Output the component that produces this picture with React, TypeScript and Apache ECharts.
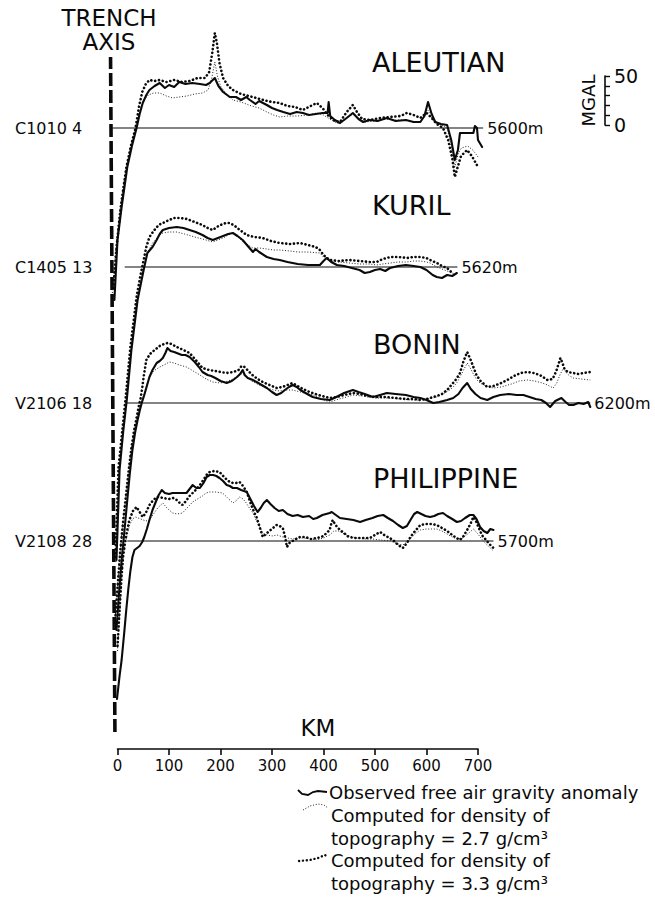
import React, { useEffect, useRef } from 'react';
import * as echarts from 'echarts';

// ---------------- DATA (km from trench axis, mGal relative to profile baseline) ----------------
const regionNames = ['ALEUTIAN', 'KURIL', 'BONIN', 'PHILIPPINE'];
const cruiseLabels = ['C1010 4', 'C1405 13', 'V2106 18', 'V2108 28'];
const depthLabels = ['5600m', '5620m', '6200m', '5700m'];
const baselineExtentsKm = [[-10, 710], [14, 660], [15, 918], [19, 730]];
const xTicksKm = { min: 0, max: 700, step: 100 };
const scaleBarMgal = { min: 0, max: 50, step: 10 };
const trenchAxisKm = [[-5, 0], [-13.5, 1]];
const legendLabels = [
  'Observed free air gravity anomaly',
  'Computed for density of',
  'topography = 2.7 g/cm³',
  'Computed for density of',
  'topography = 3.3 g/cm³',
];

const aleutianObserved = [[-6,-172],[0,-112],[8,-79],[19,-39],[28,-18],[37,0],[43,14],[49,25],[56,33],[62,38],[72,42],[82,45],[92,40],[100,43],[110,41],[120,46],[132,44],[145,45],[160,44],[172,43],[179,45],[189,50],[196,42],[205,36],[218,31],[230,31],[240,28],[250,31],[257,28],[268,24],[275,27],[290,23],[300,20],[310,18],[322,16],[335,14],[348,16],[360,15],[372,13],[385,14],[398,15],[408,15],[410,26],[413,12],[422,8],[432,5],[445,10],[457,15],[468,9],[477,6],[490,8],[505,7],[523,10],[540,7],[560,8],[575,6],[588,6],[596,12],[603,26],[610,14],[617,6],[628,4],[640,3],[648,-12],[655,-32],[661,-22],[665,-5],[678,-5],[691,-5],[694,2],[698,0],[700,-12],[708,-19]];
const aleutianDense = [[-8,-160],[-2,-120],[6,-80],[17,-40],[26,-18],[35,0],[42,22],[48,36],[55,44],[62,48],[72,47],[82,48],[95,46],[110,48],[125,46],[140,47],[155,50],[170,50],[178,56],[184,75],[189,95],[193,85],[198,65],[205,50],[215,42],[224,38],[240,34],[255,32],[270,30],[283,28],[300,26],[315,25],[330,22],[345,21],[360,18],[375,22],[387,25],[398,20],[410,12],[422,7],[432,6],[445,16],[457,23],[465,16],[475,9],[490,8],[510,10],[530,11],[550,12],[562,15],[575,13],[588,10],[600,15],[610,10],[620,4],[632,0],[642,-12],[650,-30],[655,-49],[660,-40],[667,-28],[679,-22],[688,-28],[700,-39]];
const aleutianLight = [[-10,-165],[-4,-125],[4,-85],[15,-45],[25,-20],[36,0],[44,18],[50,27],[60,33],[70,35],[82,35],[95,32],[107,30],[120,31],[135,32],[150,34],[165,35],[176,38],[183,50],[189,66],[194,52],[200,42],[210,35],[224,28],[240,26],[260,22],[275,20],[290,16],[303,13],[315,11],[330,12],[350,12],[370,13],[387,15],[400,13],[412,9],[422,6],[432,4],[445,10],[457,14],[468,9],[480,6],[500,7],[520,9],[540,8],[560,8],[575,6],[588,6],[597,12],[603,18],[610,10],[617,5],[630,3],[640,0],[648,-18],[655,-39],[662,-25],[668,-20],[680,-18],[690,-22],[700,-29]];

const kurilObserved = [[-2,-293],[4,-203],[11,-165],[18,-133],[27,-83],[33,-58],[39,-33],[46,-15],[52,0],[58,14],[63,17],[68,20],[76,27],[82,33],[88,37],[100,39],[115,40],[128,39],[140,37],[152,35],[165,32],[175,29],[185,27],[195,29],[205,31],[215,33],[224,34],[233,31],[243,27],[253,21],[263,15],[268,18],[275,15],[290,10],[303,8],[315,7],[330,5],[350,3],[370,2],[393,2],[400,6],[406,9],[415,5],[426,2],[440,1],[455,-1],[470,-3],[480,-6],[490,-5],[500,-3],[510,-2],[520,-4],[529,-1],[545,1],[560,2],[575,1],[588,0],[600,-3],[612,-8],[620,-10],[630,-11],[640,-8],[650,-9],[659,-6]];
const kurilDense = [[-4,-290],[2,-200],[9,-165],[16,-130],[25,-80],[31,-55],[37,-30],[44,-10],[50,5],[56,20],[62,30],[70,36],[80,42],[88,44],[100,47],[110,49],[121,49],[135,48],[150,45],[165,42],[175,39],[185,37],[193,40],[200,42],[210,44],[218,44],[228,41],[235,38],[243,35],[251,32],[265,30],[282,29],[298,26],[315,24],[335,23],[354,24],[370,22],[385,20],[393,17],[400,12],[412,7],[430,6],[450,7],[470,6],[490,5],[503,5],[515,8],[530,10],[545,10],[562,9],[575,10],[588,10],[600,9],[607,7],[620,4],[630,1],[640,-1],[650,-6]];
const kurilLight = [[-3,-295],[3,-205],[10,-167],[17,-135],[26,-85],[32,-60],[38,-35],[45,-15],[51,0],[57,12],[62,18],[68,24],[75,28],[82,32],[88,34],[100,35],[115,35],[130,33],[150,30],[165,28],[185,25],[195,27],[205,29],[215,32],[224,34],[232,31],[240,27],[250,23],[263,19],[275,19],[290,18],[303,17],[315,17],[335,16],[350,15],[370,15],[393,14],[400,10],[412,6],[430,5],[450,4],[470,3],[490,3],[503,2],[515,3],[530,4],[545,5],[562,5],[575,6],[588,6],[600,5],[607,4],[620,0],[630,-2],[640,-4],[650,-6],[655,-7]];

const boninObserved = [[-2,-227],[3,-190],[8,-157],[14,-125],[19,-97],[24,-70],[29,-47],[34,-30],[39,-17],[43,-8],[47,0],[52,8],[57,17],[62,26],[68,33],[76,40],[82,42],[88,45],[93,50],[97,55],[103,52],[110,51],[115,50],[125,48],[132,48],[140,46],[150,41],[158,36],[165,31],[175,28],[182,27],[190,25],[200,22],[212,20],[222,22],[232,26],[238,29],[243,33],[247,28],[253,25],[263,23],[270,21],[280,18],[290,15],[300,11],[309,8],[318,10],[325,13],[333,16],[340,18],[348,16],[355,13],[365,10],[379,6],[395,4],[412,3],[425,6],[440,10],[457,13],[468,11],[480,9],[496,6],[510,8],[523,10],[540,9],[560,8],[575,6],[588,5],[600,3],[613,0],[625,1],[640,3],[652,5],[662,9],[670,15],[679,20],[686,14],[695,9],[705,5],[718,3],[730,6],[743,8],[760,9],[775,8],[788,8],[800,6],[812,4],[823,3],[832,0],[840,-4],[850,2],[862,5],[870,1],[877,-2],[885,-2],[895,0],[905,-1],[914,1],[918,-4]];
const boninDense = [[-5,-220],[0,-185],[5,-150],[11,-118],[17,-90],[22,-66],[27,-45],[32,-28],[37,-15],[41,-4],[45,5],[48,15],[51,27],[56,43],[63,49],[72,53],[82,57],[90,59],[97,60],[105,59],[115,56],[128,53],[140,50],[152,43],[165,35],[178,33],[190,32],[200,31],[212,30],[225,31],[235,33],[241,37],[247,36],[254,32],[262,28],[272,24],[282,21],[295,18],[309,15],[320,16],[330,18],[340,20],[350,17],[360,14],[373,11],[390,8],[412,5],[425,6],[440,8],[457,10],[470,9],[485,7],[500,6],[520,6],[540,5],[560,4],[575,4],[588,3],[600,4],[607,5],[620,7],[630,9],[640,13],[650,19],[658,24],[665,30],[672,42],[679,51],[685,44],[691,36],[697,28],[705,22],[718,16],[730,17],[745,20],[757,23],[770,27],[783,30],[796,31],[808,30],[820,28],[835,23],[845,24],[852,32],[857,40],[860,45],[864,40],[868,34],[874,31],[885,30],[895,29],[905,30],[918,31]];
const boninLight = [[-6,-225],[-1,-190],[4,-155],[10,-122],[16,-95],[21,-70],[26,-48],[31,-32],[36,-18],[41,-8],[46,0],[52,10],[58,20],[64,27],[70,32],[76,34],[82,36],[90,38],[101,41],[110,40],[120,38],[134,36],[147,32],[160,28],[172,24],[185,21],[200,20],[215,22],[228,25],[238,28],[243,30],[250,27],[260,22],[275,18],[290,15],[303,13],[315,12],[328,13],[340,13],[355,11],[370,9],[380,8],[395,4],[412,1],[430,4],[445,6],[457,8],[475,7],[500,5],[525,5],[550,4],[570,3],[588,3],[605,4],[620,6],[635,10],[645,13],[652,16],[660,21],[667,28],[673,34],[679,40],[685,35],[692,28],[698,23],[704,20],[715,17],[730,15],[745,16],[765,19],[780,22],[796,23],[810,22],[825,20],[835,18],[846,15],[853,20],[859,28],[866,35],[872,30],[878,27],[885,25],[900,24],[918,23]];

const philippineObserved = [[-1,-158],[4,-135],[8,-119],[13,-92],[17,-69],[21,-48],[25,-30],[29,-16],[33,-9],[38,-7],[43,-5],[48,-1],[52,4],[57,12],[62,21],[68,31],[75,40],[80,46],[86,51],[92,48],[100,47],[107,48],[115,48],[125,48],[134,48],[140,52],[146,56],[153,53],[160,53],[167,58],[173,64],[179,66],[186,66],[192,65],[198,63],[205,60],[212,56],[218,55],[224,53],[232,53],[240,51],[251,49],[258,42],[265,35],[272,29],[278,33],[284,38],[290,41],[297,37],[305,33],[313,30],[321,31],[330,27],[340,25],[350,26],[360,24],[372,25],[380,22],[387,23],[398,26],[405,27],[412,28],[416,29],[424,26],[432,23],[445,22],[458,21],[471,19],[482,21],[495,23],[505,25],[516,26],[525,23],[535,20],[545,16],[554,13],[562,15],[570,22],[576,27],[582,29],[590,27],[598,25],[607,24],[615,25],[623,27],[632,28],[640,25],[650,22],[659,19],[667,20],[675,23],[684,26],[691,26],[697,22],[704,14],[711,10],[718,8],[724,12],[730,11]];
const philippineDense = [[0,-105],[4,-69],[8,-34],[11,-15],[14,-4],[17,6],[23,21],[30,30],[37,34],[43,29],[49,24],[55,28],[62,36],[68,40],[76,44],[82,44],[88,43],[100,42],[108,43],[115,41],[121,38],[126,36],[133,40],[140,45],[150,50],[160,56],[168,62],[174,67],[179,69],[188,70],[198,69],[207,64],[215,60],[224,58],[230,58],[237,59],[244,55],[251,49],[257,40],[262,33],[266,28],[270,24],[276,14],[282,4],[288,7],[295,10],[302,13],[309,16],[315,15],[321,13],[325,5],[329,-6],[334,-2],[340,0],[347,2],[354,4],[365,4],[375,2],[387,3],[395,4],[400,5],[406,8],[412,11],[415,17],[418,21],[422,17],[425,15],[432,11],[440,8],[446,5],[451,4],[460,3],[470,3],[480,3],[490,3],[500,6],[510,9],[518,6],[525,4],[535,1],[545,-4],[554,-7],[562,-2],[570,5],[578,10],[588,16],[600,17],[610,17],[620,16],[630,13],[640,10],[650,6],[658,3],[665,1],[672,5],[680,12],[686,18],[691,24],[696,20],[700,15],[705,9],[710,4],[716,1],[722,-3],[730,-7]];
const philippineLight = [[0,-110],[4,-74],[8,-38],[11,-18],[14,-6],[17,2],[23,15],[29,22],[35,24],[45,22],[55,20],[62,21],[70,27],[78,33],[88,38],[96,33],[107,28],[116,27],[126,28],[135,33],[146,39],[155,42],[165,45],[172,48],[179,49],[190,49],[204,48],[214,43],[224,38],[230,40],[237,44],[244,42],[250,38],[256,33],[263,28],[270,20],[276,14],[282,8],[290,6],[300,5],[310,6],[321,4],[330,3],[340,2],[350,3],[360,3],[375,2],[387,1],[400,3],[412,6],[420,10],[430,10],[440,7],[451,5],[465,3],[480,2],[495,2],[510,1],[530,0],[545,-3],[554,-4],[562,-1],[570,3],[580,8],[588,11],[600,12],[610,12],[620,12],[630,10],[640,7],[650,4],[660,2],[670,3],[680,7],[691,12],[700,7],[710,0],[720,-5],[730,-10]];

const observedSets = [aleutianObserved, kurilObserved, boninObserved, philippineObserved];
const light27Sets = [aleutianLight, kurilLight, boninLight, philippineLight];
const dense33Sets = [aleutianDense, kurilDense, boninDense, philippineDense];

// ---------------- LAYOUT ----------------
const FONT = 'DejaVu Sans';
const KM0_X = 117.5;
const PX_PER_KM = 0.515;
const X_MIN = -60;
const X_MAX = 1000;
const Y_MAX = 100;
const Y_MIN = -350;
const baselineY = [128, 267, 403, 541];
const titlePos = [[372, 62], [372, 205], [373, 344], [373, 478]];

const INK = '#0a0a0a';
const observedStyle = { color: INK, width: 2.1, join: 'round', cap: 'round' };
const lightStyle = { color: '#222', width: 1, type: [1, 1.8] };
const denseStyle = { color: INK, width: 2.6, type: [0.1, 3.8], cap: 'round' };

function buildOption() {
  const gridLeft = KM0_X + X_MIN * PX_PER_KM;
  const gridWidth = (X_MAX - X_MIN) * PX_PER_KM;
  const grids: any[] = [];
  const xAxes: any[] = [];
  const yAxes: any[] = [];
  const series: any[] = [];
  const hiddenAxis = { show: false };

  regionNames.forEach((_, i) => {
    grids.push({ left: gridLeft, width: gridWidth, top: baselineY[i] - Y_MAX, height: Y_MAX - Y_MIN, outerBoundsMode: 'none' });
    xAxes.push({ gridIndex: i, type: 'value', min: X_MIN, max: X_MAX, ...hiddenAxis });
    yAxes.push({ gridIndex: i, type: 'value', min: Y_MIN, max: Y_MAX, ...hiddenAxis });
    const ext = baselineExtentsKm[i];
    series.push({
      type: 'line', xAxisIndex: i, yAxisIndex: i, silent: true, symbol: 'none',
      data: [[ext[0], 0], [ext[1], 0]],
      lineStyle: { color: INK, width: 1.1 },
      endLabel: { show: true, formatter: depthLabels[i], color: INK, fontSize: 16, fontFamily: FONT, distance: 4 },
      z: 2,
    });
    series.push({ type: 'line', name: 'Computed 2.7', xAxisIndex: i, yAxisIndex: i, symbol: 'none', silent: true, data: light27Sets[i], lineStyle: lightStyle, z: 3 });
    series.push({ type: 'line', name: 'Computed 3.3', xAxisIndex: i, yAxisIndex: i, symbol: 'none', silent: true, data: dense33Sets[i], lineStyle: denseStyle, z: 4 });
    series.push({ type: 'line', name: 'Observed', xAxisIndex: i, yAxisIndex: i, symbol: 'none', silent: true, data: observedSets[i], lineStyle: observedStyle, z: 5 });
  });

  // trench axis grid (index 4)
  grids.push({ left: gridLeft, width: gridWidth, top: 57, height: 675, outerBoundsMode: 'none' });
  xAxes.push({ gridIndex: 4, type: 'value', min: X_MIN, max: X_MAX, show: false });
  yAxes.push({ gridIndex: 4, type: 'value', min: 0, max: 1, show: false });
  series.push({
    type: 'line', xAxisIndex: 4, yAxisIndex: 4, symbol: 'none', silent: true,
    data: trenchAxisKm, lineStyle: { color: INK, width: 3.6, type: [13, 4] }, z: 1,
  });

  // km axis grid (index 5)
  grids.push({ left: KM0_X, width: (xTicksKm.max - xTicksKm.min) * PX_PER_KM, top: 700, height: 49, outerBoundsMode: 'none' });
  xAxes.push({
    gridIndex: 5, type: 'value', min: xTicksKm.min, max: xTicksKm.max, interval: xTicksKm.step,
    axisLine: { show: true, lineStyle: { color: INK, width: 1.6 } },
    axisTick: { show: true, length: 6, lineStyle: { color: INK, width: 1.6 } },
    axisLabel: { show: true, color: INK, fontSize: 15, fontFamily: FONT, margin: 9 },
    splitLine: { show: false },
  });
  yAxes.push({ gridIndex: 5, type: 'value', min: 0, max: 1, show: false });

  // mGal scale bar grid (index 6)
  grids.push({ left: 605, width: 10, top: 76, height: 49, outerBoundsMode: 'none' });
  xAxes.push({ gridIndex: 6, type: 'value', min: 0, max: 1, show: false });
  yAxes.push({
    gridIndex: 6, type: 'value', position: 'left', min: scaleBarMgal.min, max: scaleBarMgal.max, interval: scaleBarMgal.step,
    axisLine: { show: true, lineStyle: { color: INK, width: 1.6 } },
    axisTick: { show: true, inside: true, length: 5, lineStyle: { color: INK, width: 1.4 } },
    axisLabel: {
      show: true, inside: true, margin: 9, color: INK, fontSize: 19, fontFamily: FONT,
      formatter: (v: number) => (v === scaleBarMgal.min || v === scaleBarMgal.max ? String(v) : ''),
    },
    splitLine: { show: false },
    name: 'MGAL', nameLocation: 'middle', nameRotate: 90, nameGap: 8,
    nameTextStyle: { color: INK, fontSize: 18, fontFamily: FONT },
  });

  const text = (t: string, x: number, y: number, size: number, align = 'left', extraStyle: any = {}) => ({
    type: 'text', x, y, silent: true,
    style: { text: t, fontSize: size, fontFamily: FONT, fill: INK, align, verticalAlign: 'middle', ...extraStyle },
  });

  const graphics: any[] = [];
  graphics.push(text('TRENCH\nAXIS', 109, 30, 23, 'center', { lineHeight: 24 }));
  regionNames.forEach((n, i) => graphics.push(text(n, titlePos[i][0], titlePos[i][1], 27)));
  cruiseLabels.forEach((c, i) => graphics.push(text(c, 15, baselineY[i], 16)));
  graphics.push(text('KM', 318, 728, 23, 'center'));

  // legend
  const legendY = [792, 815, 838, 860, 883];
  legendLabels.forEach((l, i) => graphics.push(text(l, i === 0 ? 329 : 331, legendY[i], 18)));
  graphics.push({ type: 'polyline', silent: true, shape: { points: [[298, 790], [302, 794], [308, 795], [313, 792], [318, 791], [327, 792]] }, style: { stroke: INK, lineWidth: 1.8, fill: null } });
  graphics.push({ type: 'polyline', silent: true, shape: { points: [[303, 810], [310, 806], [318, 804], [324, 805], [328, 808]] }, style: { stroke: '#222', lineWidth: 1, lineDash: [1, 1.8], fill: null } });
  graphics.push({ type: 'polyline', silent: true, shape: { points: [[299, 861], [310, 860], [318, 858], [325, 855], [328, 857]] }, style: { stroke: INK, lineWidth: 2.4, lineDash: [0.1, 3.8], lineCap: 'round', fill: null } });

  return {
    animation: false,
    backgroundColor: '#ffffff',
    grid: grids,
    xAxis: xAxes,
    yAxis: yAxes,
    series,
    graphic: graphics,
  };
}

export default function App() {
  const ref = useRef<HTMLDivElement>(null);
  useEffect(() => {
    if (!ref.current) return;
    const chart = echarts.init(ref.current, null, { renderer: 'svg' });
    chart.setOption(buildOption() as any);
    return () => chart.dispose();
  }, []);
  return (
    <div
      ref={ref}
      style={{ position: 'fixed', left: 0, top: 0, width: 655, height: 908, background: '#fff' }}
    />
  );
}
